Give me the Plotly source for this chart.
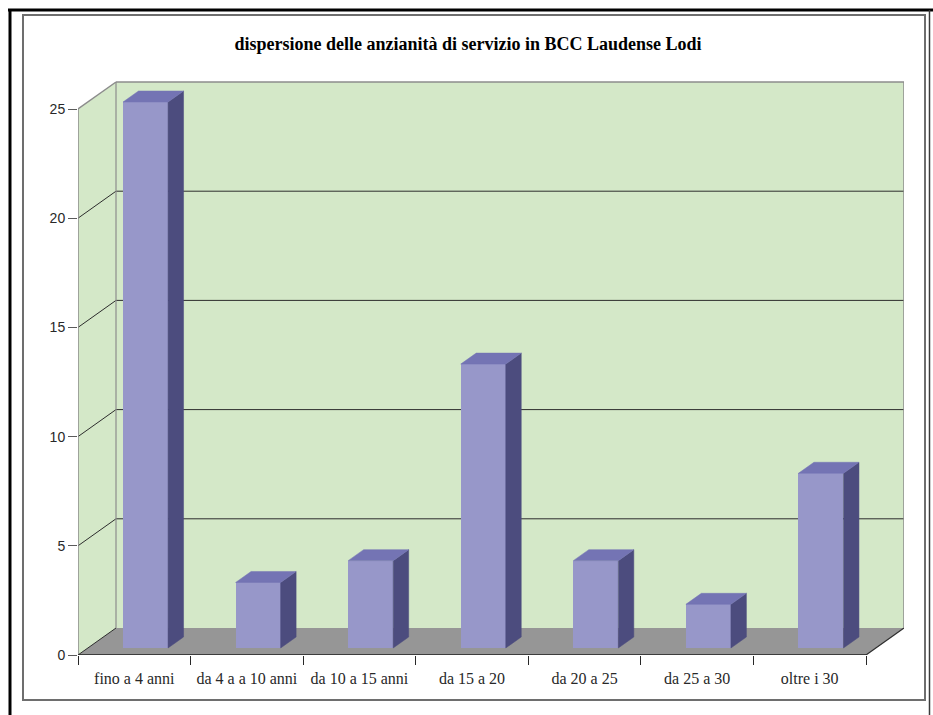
import plotly.graph_objects as go

# Data
categories = ["fino a 4 anni", "da 4 a a 10 anni", "da 10 a 15 anni", "da 15 a 20",
              "da 20 a 25", "da 25 a 30", "oltre i 30"]
values = [25, 3, 4, 13, 4, 2, 8]
y_ticks = [0, 5, 10, 15, 20, 25]
title_text = "dispersione delle anzianità di servizio in BCC Laudense Lodi"

# Geometry of the pseudo-3D box (in data units)
W, H = 933, 715
L_M, B_M, T_M = 78, 60, 78
PX_PER_CAT = 112.571
PX_PER_UNIT = 21.84
DX = 38 / PX_PER_CAT          # depth shift along x
DY = 27 / PX_PER_UNIT         # depth shift along y
Y_MAX = 25
BAR_W = 0.4
FRONT_OFF = -0.1              # left edge of a bar front, relative to its category
BAR_Z0 = 7 / 27               # bar front depth fraction
BAR_Z1 = 18 / 27              # bar back depth fraction

n = len(categories)
x0, x1 = -0.5, n - 0.5
xr_top = x1 + DX
plot_w = (xr_top - x0) * PX_PER_CAT
R_M = W - L_M - plot_w
plot_h = H - T_M - B_M
yr_top = plot_h / PX_PER_UNIT

WALL = "rgb(212,232,200)"
FLOOR = "rgb(150,150,150)"
FRONT = "rgb(151,151,201)"
TOP = "rgb(116,116,180)"
SIDE = "rgb(76,76,126)"
EDGE = "rgb(140,140,140)"
GRID = "rgb(45,45,45)"

shapes = []


def poly(pts, fill, line_color=None, width=0, layer="below"):
    d = "M " + " L ".join(f"{x},{y}" for x, y in pts) + " Z"
    shapes.append(dict(type="path", path=d, xref="x", yref="y", fillcolor=fill,
                       line=dict(color=line_color or fill, width=width), layer=layer))


def seg(xa, ya, xb, yb, color, width=1):
    shapes.append(dict(type="line", x0=xa, y0=ya, x1=xb, y1=yb, xref="x", yref="y",
                       line=dict(color=color, width=width), layer="below"))


# back wall and left wall
poly([(x0 + DX, DY), (xr_top, DY), (xr_top, Y_MAX + DY), (x0 + DX, Y_MAX + DY)], WALL)
poly([(x0, 0), (x0 + DX, DY), (x0 + DX, Y_MAX + DY), (x0, Y_MAX)], WALL)
# gridlines on back and side walls
for v in y_ticks[1:-1]:
    seg(x0 + DX, v + DY, xr_top, v + DY, GRID, 1)
    seg(x0, v, x0 + DX, v + DY, GRID, 1)
# floor
poly([(x0, 0), (x1, 0), (xr_top, DY), (x0 + DX, DY)], FLOOR)
seg(x0, 0, x0 + DX, DY, GRID, 1)
seg(x1, 0, xr_top, DY, GRID, 1.2)
# wall outlines
seg(x0 + DX, Y_MAX + DY, xr_top, Y_MAX + DY, EDGE, 1.5)
seg(xr_top, DY, xr_top, Y_MAX + DY, EDGE, 1.5)
seg(x0 + DX, DY, x0 + DX, Y_MAX + DY, EDGE, 1.2)
seg(x0, Y_MAX, x0 + DX, Y_MAX + DY, EDGE, 1.5)
seg(x0, 0, x0, Y_MAX, EDGE, 1.5)
seg(x0, 0, x1, 0, "rgb(30,30,30)", 1.5)


# frames around the chart (pixel positions converted to paper units)
def px(xp):
    return (xp - L_M) / plot_w


def py(yp):
    return (H - B_M - yp) / plot_h


shapes.append(dict(type="rect", xref="paper", yref="paper", x0=px(23), x1=px(925),
                   y0=py(700), y1=py(15), line=dict(color="rgb(110,110,110)", width=2),
                   layer="below"))
shapes.append(dict(type="line", xref="paper", yref="paper", x0=px(8), x1=px(933),
                   y0=py(10), y1=py(10), line=dict(color="black", width=3)))
shapes.append(dict(type="line", xref="paper", yref="paper", x0=px(10), x1=px(10),
                   y0=py(9), y1=py(716), line=dict(color="black", width=3)))
shapes.append(dict(type="line", xref="paper", yref="paper", x0=px(929.5), x1=px(929.5),
                   y0=py(10), y1=py(716), line=dict(color="rgb(60,60,60)", width=1.5)))

fig = go.Figure()

base = BAR_Z0 * DY
xpos = list(range(n))
fig.add_trace(go.Bar(x=xpos, y=values, base=base, width=BAR_W, offset=FRONT_OFF,
                     marker=dict(color=FRONT, line=dict(width=0)), hoverinfo="skip",
                     showlegend=False))

bdx = (BAR_Z1 - BAR_Z0) * DX
bdy = (BAR_Z1 - BAR_Z0) * DY
for i, v in enumerate(values):
    xl = i + FRONT_OFF
    xr = xl + BAR_W
    yt = v + base
    # side face
    fig.add_trace(go.Scatter(
        x=[xr, xr + bdx, xr + bdx, xr, xr], y=[base, base + bdy, yt + bdy, yt, base],
        fill="toself", fillcolor=SIDE, mode="lines", line=dict(width=0.5, color=SIDE),
        hoverinfo="skip", showlegend=False))
    # top face
    fig.add_trace(go.Scatter(
        x=[xl, xr, xr + bdx, xl + bdx, xl], y=[yt, yt, yt + bdy, yt + bdy, yt],
        fill="toself", fillcolor=TOP, mode="lines", line=dict(width=0.5, color=TOP),
        hoverinfo="skip", showlegend=False))

fig.update_layout(
    width=W, height=H,
    margin=dict(l=L_M, r=R_M, t=T_M, b=B_M, pad=0),
    paper_bgcolor="white", plot_bgcolor="white",
    shapes=shapes,
    bargap=0,
    title=dict(text=f"<b>{title_text}</b>", x=468 / W, xref="container", xanchor="center",
               y=1 - 44 / H, yref="container", yanchor="middle",
               font=dict(family="Liberation Serif", size=18, color="black")),
    xaxis=dict(range=[x0, xr_top], tickmode="array", tickvals=xpos, ticktext=categories,
               ticks="", showgrid=False, zeroline=False, showline=False,
               ticklabelstandoff=12,
               tickfont=dict(family="Liberation Serif", size=16, color="rgb(40,40,40)"),
               minor=dict(tickmode="array", tickvals=[i - 0.5 for i in range(n + 1)],
                          ticks="outside", ticklen=9, tickcolor="rgb(40,40,40)",
                          tickwidth=1.2, showgrid=False),
               fixedrange=True),
    yaxis=dict(range=[0, yr_top], tickmode="array", tickvals=y_ticks,
               ticks="outside", ticklen=9, tickcolor="rgb(90,90,90)", tickwidth=1.2,
               showgrid=False, zeroline=False, showline=False,
               tickfont=dict(family="Liberation Sans", size=14, color="rgb(40,40,40)"),
               fixedrange=True),
)

fig.write_html("out.html")
